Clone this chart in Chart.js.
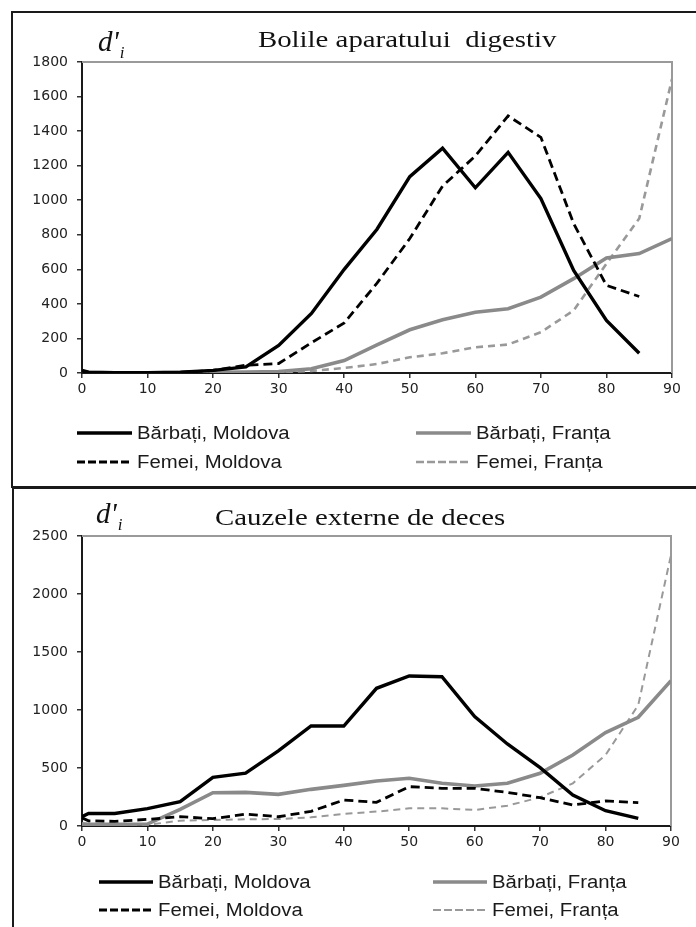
<!DOCTYPE html>
<html>
<head>
<meta charset="utf-8">
<script src="https://cdn.jsdelivr.net/npm/chart.js@4.4.1/dist/chart.umd.min.js"></script>
<style>
  body { margin: 0; width: 696px; height: 927px; position: relative; overflow: hidden; background: #fff; }
  .box { position: absolute; border: 2px solid #1a1a1a; box-sizing: border-box; }
  canvas { position: absolute; left: 0; }
  .ttl { position: absolute; font-family: 'Liberation Serif', serif; font-size: 24px; line-height: 1;
         white-space: pre; transform: scaleX(1.2); transform-origin: 0 0; color: #111; }
  .sym { position: absolute; font-family: 'Liberation Serif', serif; font-style: italic; font-size: 29px;
         line-height: 1; white-space: nowrap; color: #111; }
  .sym span { font-size: 17px; position: relative; top: 7px; margin-left: 1px; }
</style>
</head>
<body>
<div class="box" style="left:11px;top:11px;width:700px;height:477px"></div>
<div class="box" style="left:12px;top:487px;width:700px;height:500px"></div>

<canvas id="digestiv" width="696" height="487" style="top:0"></canvas>
<canvas id="externe" width="696" height="439" style="top:488px"></canvas>

<div class="sym" style="left:98px;top:27px">d'<span>i</span></div>
<div class="ttl" style="left:258px;top:27px">Bolile aparatului  digestiv</div>
<div class="sym" style="left:96px;top:499px">d'<span>i</span></div>
<div class="ttl" style="left:215px;top:505px">Cauzele externe de deces</div>

<script>
// age groups: 0, 1-4, 5-9, ... (Moldova ends at 85, France at 90)
const ageMd = [0, 1, 5, 10, 15, 20, 25, 30, 35, 40, 45, 50, 55, 60, 65, 70, 75, 80, 85];
const ageFr = [0, 1, 5, 10, 15, 20, 25, 30, 35, 40, 45, 50, 55, 60, 65, 70, 75, 80, 85, 90];

const seriesNames = ['Bărbați, Moldova', 'Femei, Moldova', 'Bărbați, Franța', 'Femei, Franța'];

// Bolile aparatului digestiv
const digBarbMd = [15, 5, 2, 2, 5, 15, 35, 160, 345, 600, 832, 1136, 1301, 1072, 1277, 1010, 594, 304, 114];
const digFemMd  = [10, 3, 1, 1, 3, 15, 45, 55, 175, 290, 520, 778, 1082, 1256, 1488, 1364, 865, 507, 443];
const digBarbFr = [10, 2, 1, 1, 2, 4, 5, 8, 25, 72, 163, 250, 308, 352, 372, 439, 546, 666, 691, 778];
const digFemFr  = [8, 2, 1, 1, 1, 2, 3, 5, 12, 29, 52, 91, 114, 149, 165, 236, 362, 633, 894, 1701];

// Cauzele externe de deces
const extBarbMd = [80, 108, 108, 150, 210, 420, 455, 648, 862, 862, 1187, 1293, 1287, 943, 707, 503, 267, 132, 66];
const extFemMd  = [70, 45, 40, 57, 80, 63, 103, 80, 126, 224, 204, 339, 325, 325, 290, 244, 181, 216, 201];
const extBarbFr = [20, 15, 15, 17, 144, 287, 290, 273, 316, 350, 388, 411, 368, 345, 368, 454, 612, 805, 937, 1253];
const extFemFr  = [10, 8, 8, 10, 46, 52, 58, 60, 75, 105, 124, 152, 152, 138, 175, 247, 368, 612, 1043, 2336];

function pts(ages, vals) {
  return vals.map((v, i) => ({ x: ages[i], y: v }));
}

// gray top/right edge of the plot area
const plotFrame = {
  id: 'plotFrame',
  beforeDatasetsDraw(chart) {
    const { ctx, chartArea: a } = chart;
    ctx.save();
    ctx.strokeStyle = '#9a9a9a';
    ctx.lineWidth = 2;
    ctx.beginPath();
    ctx.moveTo(a.left, a.top);
    ctx.lineTo(a.right, a.top);
    ctx.lineTo(a.right, a.bottom);
    ctx.stroke();
    ctx.restore();
  }
};

// two-column legend under the plot
const pairLegend = {
  id: 'pairLegend',
  afterDraw(chart, args, opts) {
    const ctx = chart.ctx;
    chart.data.datasets.forEach((ds, i) => {
      const x = opts.cols[Math.floor(i / 2)];
      const y = opts.rows[i % 2];
      ctx.save();
      ctx.strokeStyle = ds.borderColor;
      ctx.lineWidth = ds.borderWidth;
      ctx.setLineDash(ds.legendDash || ds.borderDash || []);
      ctx.beginPath();
      ctx.moveTo(x, y);
      ctx.lineTo(x + opts.len, y);
      ctx.stroke();
      ctx.setLineDash([]);
      ctx.fillStyle = '#1a1a1a';
      ctx.font = '18px "Liberation Sans", Arial, sans-serif';
      ctx.textBaseline = 'middle';
      ctx.translate(x + opts.len + 5, y + 1);
      ctx.scale(1.13, 1);
      ctx.fillText(ds.label, 0, 0);
      ctx.restore();
    });
  }
};

function makeChart(id, data, opt) {
  const datasets = [
    { label: seriesNames[0], data: pts(ageMd, data[0]), borderColor: '#000', borderWidth: 3.4 },
    { label: seriesNames[1], data: pts(ageMd, data[1]), borderColor: '#000', borderWidth: 2.8, borderDash: [9, 5], legendDash: [8, 3] },
    { label: seriesNames[2], data: pts(ageFr, data[2]), borderColor: '#8a8a8a', borderWidth: 3.6 },
    { label: seriesNames[3], data: pts(ageFr, data[3]), borderColor: '#999', borderWidth: opt.ffWidth, borderDash: [7, 5], legendDash: [8, 3] }
  ];

  const tickFont = { family: 'DejaVu Sans', size: 14 };

  return new Chart(document.getElementById(id), {
    type: 'line',
    data: { datasets },
    options: {
      responsive: false,
      animation: false,
      layout: { padding: { top: opt.top, right: opt.right, left: 0, bottom: 0 } },
      elements: { point: { radius: 0 }, line: { tension: 0, fill: false } },
      plugins: {
        legend: { display: false },
        tooltip: { enabled: false },
        pairLegend: opt.legend
      },
      scales: {
        x: {
          type: 'linear', min: 0, max: 90,
          afterFit(s) { s.height = opt.xHeight; },
          ticks: { stepSize: 10, color: '#222', font: tickFont, padding: 3, callback: v => String(v) },
          grid: { drawOnChartArea: false, tickLength: 5, color: '#333', lineWidth: 1.5 },
          border: { color: '#1a1a1a', width: 2 }
        },
        y: {
          min: 0, max: opt.yMax,
          afterFit(s) { s.width = 82; },
          ticks: { stepSize: opt.yStep, color: '#222', font: tickFont, padding: 9, callback: v => String(v) },
          grid: { drawOnChartArea: false, tickLength: 5, color: '#333', lineWidth: 1.5 },
          border: { color: '#1a1a1a', width: 2 }
        }
      }
    },
    plugins: [plotFrame, pairLegend]
  });
}

makeChart('digestiv', [digBarbMd, digFemMd, digBarbFr, digFemFr], {
  yMax: 1800, yStep: 200, top: 62, right: 24, xHeight: 114, ffWidth: 2.6,
  legend: { cols: [77, 416], rows: [433, 462], len: 55 }
});

makeChart('externe', [extBarbMd, extFemMd, extBarbFr, extFemFr], {
  yMax: 2500, yStep: 500, top: 48, right: 25, xHeight: 101, ffWidth: 2,
  legend: { cols: [99, 433], rows: [394, 422], len: 54 }
});
</script>
</body>
</html>
